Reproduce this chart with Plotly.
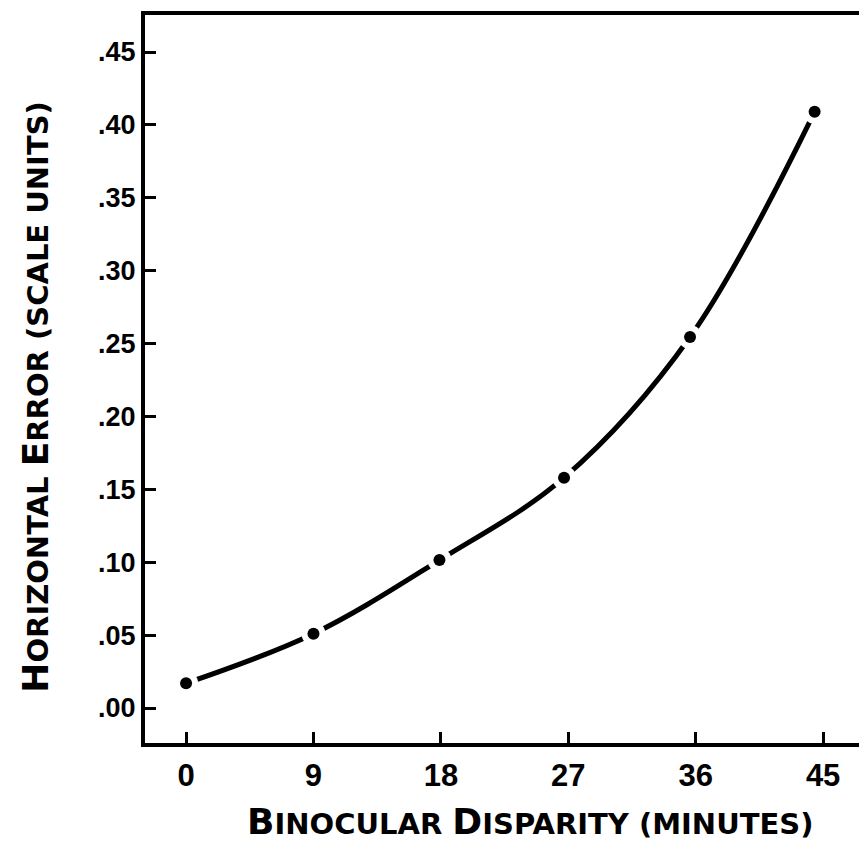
import plotly.graph_objects as go

# Data
disparity = [0, 9, 17.9, 26.7, 35.6, 44.4]          # minutes
h_error = [0.017, 0.051, 0.1015, 0.158, 0.2545, 0.409]  # scale units

x_tick_vals = [0, 9, 18, 27, 36, 45]
x_tick_text = ["0", "9", "18", "27", "36", "45"]
y_tick_vals = [0.00, 0.05, 0.10, 0.15, 0.20, 0.25, 0.30, 0.35, 0.40, 0.45]
y_tick_text = [".00", ".05", ".10", ".15", ".20", ".25", ".30", ".35", ".40", ".45"]

TICK_FONT = "Liberation Sans"
TITLE_FONT = "DejaVu Sans"

fig = go.Figure()
# smooth curve
fig.add_trace(go.Scatter(
    x=disparity, y=h_error, mode="lines",
    line=dict(color="black", width=5, shape="spline", smoothing=1.0),
    hoverinfo="skip", showlegend=False))
# white halos to break the curve near points
fig.add_trace(go.Scatter(
    x=disparity, y=h_error, mode="markers",
    marker=dict(color="white", size=24, line=dict(width=0)),
    hoverinfo="skip", showlegend=False))
# data dots
fig.add_trace(go.Scatter(
    x=disparity, y=h_error, mode="markers",
    marker=dict(color="black", size=12, line=dict(width=0)),
    showlegend=False))

fig.update_layout(
    width=859, height=845,
    margin=dict(l=137, r=0, t=7, b=110),
    paper_bgcolor="white", plot_bgcolor="white",
    font=dict(family=TITLE_FONT, color="black"),
    xaxis=dict(
        range=[-2.9, 48.1], tickmode="array",
        tickvals=x_tick_vals, ticktext=x_tick_text,
        ticks="inside", ticklen=11, tickwidth=3, tickcolor="black",
        showline=True, linecolor="black", linewidth=4, mirror=True,
        showgrid=False, zeroline=False,
        tickfont=dict(family=TICK_FONT, size=31, color="black", weight="bold"),
        ticklabelstandoff=2,
    ),
    yaxis=dict(
        range=[-0.024, 0.4754], tickmode="array",
        tickvals=y_tick_vals, ticktext=y_tick_text,
        ticks="inside", ticklen=11, tickwidth=3, tickcolor="black",
        showline=True, linecolor="black", linewidth=4, mirror=False,
        showgrid=False, zeroline=False,
        tickfont=dict(family=TICK_FONT, size=27, color="black", weight="bold"),
        ticklabelstandoff=0,
    ),
    annotations=[
        dict(text="<span style='font-size:36px'>B</span>INOCULAR "
                  "<span style='font-size:36px'>D</span>ISPARITY (MINUTES)",
             xref="paper", yref="paper", x=0.533, y=-0.108,
             xanchor="center", yanchor="middle", showarrow=False,
             font=dict(family=TITLE_FONT, size=29, color="black", weight="bold")),
        dict(text="<span style='font-size:36px'>H</span>ORIZONTAL "
                  "<span style='font-size:36px'>E</span>RROR (SCALE UNITS)",
             xref="paper", yref="paper", x=-0.152, y=0.476, textangle=-90,
             xanchor="center", yanchor="middle", showarrow=False,
             font=dict(family=TITLE_FONT, size=29, color="black", weight="bold")),
    ],
)

fig.write_html("out.html")
